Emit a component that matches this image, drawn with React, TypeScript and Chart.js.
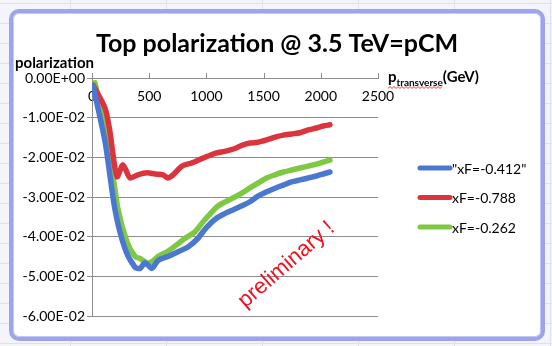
import React, { useEffect, useRef } from "react";
import { Chart, registerables } from "chart.js";

Chart.register(...registerables);

const titleText = "Top polarization @ 3.5 TeV=pCM";
const yTitle = "polarization";
const xTitleMain = "p";
const xTitleSub = "transverse";
const xTitleUnit = "(GeV)";
const watermark = "preliminary !";
const watermarkAt = { x: 1735, y: -0.0482 };

const seriesLabels = ['"xF=-0.412"', "xF=-0.788", "xF=-0.262"];
const seriesColors = ["#4a78d0", "#dc343c", "#7fc843"];

const xTickLabels = ["0", "500", "1000", "1500", "2000", "2500"];
const xTickValues = [0, 500, 1000, 1500, 2000, 2500];
const yTickLabels = ["0.00E+00", "-1.00E-02", "-2.00E-02", "-3.00E-02", "-4.00E-02", "-5.00E-02", "-6.00E-02"];
const yTickValues = [0, -0.01, -0.02, -0.03, -0.04, -0.05, -0.06];

const xBlue = [9, 114, 200, 288, 376, 420, 463, 524, 577, 664, 752, 839, 927, 1000, 1090, 1160, 1235, 1310, 1381, 1450, 1527, 1600, 1672, 1745, 1818, 1890, 1963, 2020, 2080];
const yBlue = [-0.002, -0.016, -0.033, -0.043, -0.0477, -0.048, -0.0466, -0.048, -0.046, -0.045, -0.0438, -0.0426, -0.0404, -0.0377, -0.0353, -0.0342, -0.0332, -0.0322, -0.0312, -0.0298, -0.0287, -0.0278, -0.027, -0.0262, -0.0257, -0.0252, -0.0247, -0.0242, -0.0237];

const xRed = [9, 114, 157, 184, 219, 271, 332, 402, 481, 551, 621, 664, 708, 787, 874, 970, 1090, 1160, 1235, 1310, 1381, 1450, 1527, 1600, 1672, 1745, 1818, 1890, 1963, 2020, 2080];
const yRed = [-0.0018, -0.0076, -0.0136, -0.0194, -0.0249, -0.0219, -0.0252, -0.0244, -0.0239, -0.0242, -0.0244, -0.0252, -0.0244, -0.0222, -0.0214, -0.0202, -0.0189, -0.0185, -0.0179, -0.017, -0.0164, -0.0162, -0.0156, -0.0149, -0.0144, -0.0141, -0.0138, -0.0131, -0.0126, -0.0121, -0.0118];

const xGreen = [26, 140, 227, 306, 376, 420, 481, 524, 577, 656, 743, 813, 900, 970, 1090, 1160, 1235, 1310, 1381, 1450, 1527, 1600, 1672, 1745, 1818, 1890, 1963, 2020, 2080];
const yGreen = [-0.0012, -0.016, -0.033, -0.0413, -0.045, -0.0455, -0.0466, -0.0463, -0.045, -0.0438, -0.042, -0.0404, -0.0388, -0.0363, -0.0325, -0.0313, -0.0302, -0.029, -0.0277, -0.0265, -0.0252, -0.0244, -0.0237, -0.0232, -0.0227, -0.0222, -0.0217, -0.0212, -0.0207];

const FONT = "Lato, 'Open Sans', sans-serif";

const toPoints = (xs: number[], ys: number[]) => xs.map((x, i) => ({ x, y: ys[i] }));
const labelFor = (vals: number[], labels: string[], v: any) => {
  const idx = vals.findIndex((t) => Math.abs(t - Number(v)) < 1e-9);
  return idx >= 0 ? labels[idx] : "";
};

const decorPlugin = {
  id: "decor",
  afterDraw(chart: any) {
    const ctx = chart.ctx as CanvasRenderingContext2D;
    const xs = chart.scales.x;
    const ys = chart.scales.y;
    const area = chart.chartArea;
    ctx.save();
    // upward tick marks on x axis
    const axisY = ys.getPixelForValue(0);
    ctx.strokeStyle = "#8c8c8c";
    ctx.lineWidth = 1;
    xs.ticks.forEach((t: any) => {
      const px = Math.round(xs.getPixelForValue(t.value)) + 0.5;
      ctx.beginPath();
      ctx.moveTo(px, axisY);
      ctx.lineTo(px, axisY - 5);
      ctx.stroke();
    });
    // title
    ctx.fillStyle = "#000";
    ctx.textAlign = "center";
    ctx.textBaseline = "alphabetic";
    ctx.font = `bold 25px ${FONT}`;
    ctx.fillText(titleText, 277, 52);
    // y title
    ctx.textAlign = "left";
    ctx.font = `bold 15px ${FONT}`;
    ctx.fillText(yTitle, 15, 68);
    // x title
    const x0 = area.right + 10;
    ctx.font = `bold 15px ${FONT}`;
    ctx.fillText(xTitleMain, x0, 82);
    const w = ctx.measureText(xTitleMain).width;
    ctx.font = `bold 10px ${FONT}`;
    ctx.fillText(xTitleSub, x0 + w, 86);
    const ws = ctx.measureText(xTitleSub).width;
    ctx.font = `bold 15px ${FONT}`;
    ctx.fillText(xTitleUnit, x0 + w + ws, 82);
    // spell-check squiggle
    ctx.strokeStyle = "#e0353b";
    ctx.lineWidth = 1;
    ctx.beginPath();
    for (let i = 0; i * 2 <= w + ws; i++) {
      const px = x0 + i * 2;
      const py = i % 2 === 0 ? 88.5 : 86.5;
      if (i === 0) ctx.moveTo(px, py);
      else ctx.lineTo(px, py);
    }
    ctx.stroke();
    // legend
    chart.data.datasets.forEach((ds: any, i: number) => {
      const ly = 168 + i * 29.5;
      ctx.strokeStyle = ds.borderColor;
      ctx.lineWidth = 5;
      ctx.lineCap = "round";
      ctx.beginPath();
      ctx.moveTo(420, ly);
      ctx.lineTo(450, ly);
      ctx.stroke();
      ctx.fillStyle = "#000";
      ctx.font = `14px ${FONT}`;
      ctx.textAlign = "left";
      ctx.textBaseline = "middle";
      ctx.fillText(ds.label, 452, ly + 1);
    });
    // watermark
    const wx = xs.getPixelForValue(watermarkAt.x);
    const wy = ys.getPixelForValue(watermarkAt.y);
    ctx.translate(wx, wy);
    ctx.rotate((-41 * Math.PI) / 180);
    ctx.fillStyle = "#f0101f";
    ctx.font = `22px 'Liberation Sans', Arial, sans-serif`;
    ctx.textAlign = "center";
    ctx.textBaseline = "alphabetic";
    ctx.fillText(watermark, 0, 0);
    ctx.restore();
  },
};

export default function App() {
  const ref = useRef<HTMLCanvasElement | null>(null);
  useEffect(() => {
    if (!ref.current) return;
    const mk = (label: string, color: string, xs: number[], ys: number[]) => ({
      label,
      data: toPoints(xs, ys),
      borderColor: color,
      backgroundColor: color,
      borderWidth: 5.5,
      pointRadius: 0,
      tension: 0.25,
      borderCapStyle: "round",
      borderJoinStyle: "round",
    });
    const chart = new Chart(ref.current, {
      type: "line",
      data: {
        datasets: [
          mk(seriesLabels[0], seriesColors[0], xBlue, yBlue),
          mk(seriesLabels[1], seriesColors[1], xRed, yRed),
          mk(seriesLabels[2], seriesColors[2], xGreen, yGreen),
        ] as any,
      },
      options: {
        animation: false,
        responsive: false,
        maintainAspectRatio: false,
        layout: { padding: { left: 0, top: 78, right: 174, bottom: 30 } },
        plugins: { legend: { display: false }, title: { display: false }, tooltip: { enabled: false } },
        scales: {
          x: {
            type: "linear",
            position: { y: 0 } as any,
            min: 0,
            max: 2500,
            afterBuildTicks: (s: any) => {
              s.ticks = xTickValues.map((v) => ({ value: v }));
            },
            ticks: {
              color: "#000",
              font: { family: FONT, size: 14 },
              padding: 10,
              maxRotation: 0,
              autoSkip: false,
              callback: (v: any) => labelFor(xTickValues, xTickLabels, v),
            },
            grid: { display: true, color: "rgba(0,0,0,0)", drawTicks: false },
            border: { display: true, color: "#8c8c8c", width: 1 },
          },
          y: {
            type: "linear",
            min: -0.06,
            max: 0,
            afterFit: (s: any) => {
              s.width = 92;
            },
            afterBuildTicks: (s: any) => {
              s.ticks = yTickValues.map((v) => ({ value: v }));
            },
            ticks: {
              color: "#000",
              font: { family: FONT, size: 14 },
              padding: 2,
              autoSkip: false,
              callback: (v: any) => labelFor(yTickValues, yTickLabels, v),
            },
            grid: { color: "#8c8c8c", lineWidth: 1, tickLength: 5, drawTicks: true },
            border: { display: true, color: "#8c8c8c", width: 1 },
          },
        },
      },
      plugins: [decorPlugin],
    } as any);
    return () => chart.destroy();
  }, []);

  return (
    <div
      style={{
        position: "absolute",
        left: 0,
        top: 0,
        width: 552,
        height: 346,
        overflow: "hidden",
        background: "#f4f5fa",
        backgroundImage:
          "linear-gradient(#dfe1ea 1px, transparent 1px), linear-gradient(90deg, #dfe1ea 1px, transparent 1px)",
        backgroundSize: "96px 20px",
        backgroundPosition: "70px 3px",
      }}
    >
      <div
        style={{
          position: "absolute",
          left: 9,
          top: 9,
          width: 528,
          height: 324,
          border: "4px solid #9ea4ec",
          borderRadius: 10,
          background: "#fff",
          boxShadow: "inset 0 0 0 1px #c4c8f4",
        }}
      />
      <canvas ref={ref} width={552} height={346} style={{ position: "absolute", left: 0, top: 0, display: "block" }} />
    </div>
  );
}
